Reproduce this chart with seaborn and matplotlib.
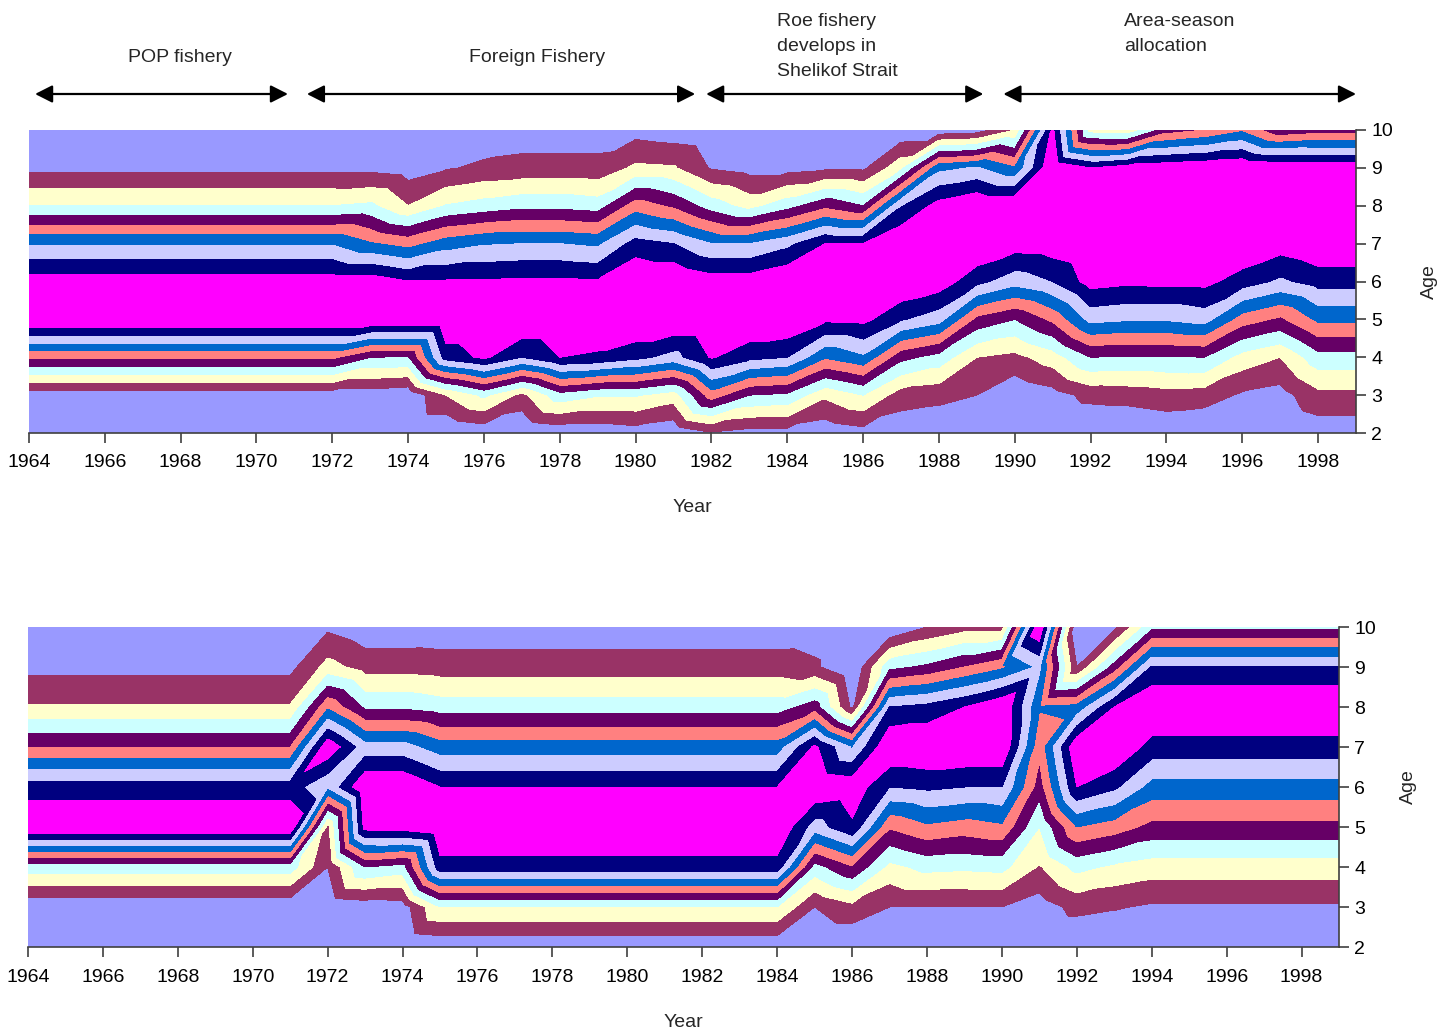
import numpy as np
import matplotlib
matplotlib.use("Agg")
import matplotlib.pyplot as plt
import matplotlib.tri as mtri
import seaborn as sns

# ---------------- data ----------------
years = list(range(1964, 2000))
ages = [2, 3, 4, 5, 6, 7, 8, 9, 10]

# Upper panel: selectivity by age (rows) for each year 1964..1999
top_age2 = [0, 0, 0, 0, 0, 0, 0, 0, 0, 0, 0, 0, 0.03, 0, 0.03, 0.03, 0.05, 0.02, 0.09, 0.06, 0.06, 0.03, 0.06, 0.03, 0.02, 0, 0, 0, 0, 0, 0.02, 0, 0, 0, 0.04, 0.04]
top_age3 = [0.04, 0.04, 0.04, 0.04, 0.04, 0.04, 0.04, 0.04, 0.04, 0.04, 0.02, 0.2, 0.32, 0.17, 0.36, 0.31, 0.31, 0.25, 0.55, 0.4, 0.38, 0.22, 0.3, 0.15, 0.13, 0.1, 0.02, 0.06, 0.13, 0.14, 0.16, 0.15, 0.085, 0.06, 0.17, 0.17]
top_age4 = [0.52, 0.52, 0.52, 0.52, 0.52, 0.52, 0.52, 0.52, 0.52, 0.40, 0.39, 0.845, 0.92, 0.8, 0.9, 0.88, 0.83, 0.76, 0.91, 0.83, 0.8, 0.61, 0.68, 0.43, 0.36, 0.2, 0.17, 0.25, 0.4, 0.39, 0.39, 0.4, 0.26, 0.2, 0.36, 0.36]
top_age5 = [1.0, 1.0, 1.0, 1.0, 1.0, 1.0, 1.0, 1.0, 1.0, 1.0, 1.0, 1.0, 1.0, 1.0, 1.0, 1.0, 1.0, 1.0, 1.0, 1.0, 1.0, 0.92, 0.93, 0.81, 0.74, 0.47, 0.4, 0.52, 0.73, 0.71, 0.71, 0.74, 0.55, 0.48, 0.62, 0.62]
top_age6 = [0.95, 0.95, 0.95, 0.95, 0.95, 0.95, 0.95, 0.95, 0.95, 0.96, 0.905, 0.91, 0.91, 0.92, 0.92, 0.91, 1.0, 1.0, 0.95, 0.95, 1.0, 1.0, 1.0, 1.0, 0.96, 0.83, 0.74, 0.8, 0.94, 0.92, 0.93, 0.93, 0.85, 0.78, 0.84, 0.84]
top_age7 = [0.69, 0.69, 0.69, 0.69, 0.69, 0.69, 0.69, 0.69, 0.69, 0.61, 0.56, 0.65, 0.69, 0.7, 0.7, 0.68, 0.84, 0.8, 0.7, 0.7, 0.77, 0.9, 0.9, 1.0, 1.0, 1.0, 0.95, 0.96, 1.0, 1.0, 1.0, 1.0, 1.0, 0.95, 0.99, 0.99]
top_age8 = [0.30, 0.30, 0.30, 0.30, 0.30, 0.30, 0.30, 0.30, 0.30, 0.32, 0.20, 0.305, 0.34, 0.37, 0.37, 0.35, 0.55, 0.48, 0.35, 0.26, 0.36, 0.47, 0.4, 0.79, 0.94, 1.0, 1.0, 1.0, 1.0, 1.0, 1.0, 1.0, 1.0, 1.0, 1.0, 1.0]
top_age9 = [0.075, 0.075, 0.075, 0.075, 0.075, 0.075, 0.075, 0.075, 0.075, 0.07, 0.05, 0.09, 0.12, 0.13, 0.13, 0.13, 0.22, 0.21, 0.09, 0.06, 0.06, 0.08, 0.08, 0.27, 0.67, 0.71, 0.61, 1.0, 0.9, 0.95, 0.97, 0.98, 1.0, 0.98, 0.97, 0.97]
top_age10 = [0.02, 0.02, 0.02, 0.02, 0.02, 0.02, 0.02, 0.02, 0.02, 0.02, 0.0, 0.02, 0.03, 0.05, 0.05, 0.05, 0.06, 0.04, 0.02, 0.01, 0.01, 0.01, 0.01, 0.02, 0.03, 0.05, 0.2, 0.92, 0.25, 0.23, 0.45, 0.5, 0.58, 0.42, 0.45, 0.45]

# Lower panel
bot_age2 = [0, 0, 0, 0, 0, 0, 0, 0, 0, 0, 0, 0.02, 0.02, 0.02, 0.02, 0.02, 0.02, 0.02, 0.02, 0.02, 0.02, 0, 0, 0, 0, 0, 0, 0, 0, 0, 0, 0, 0, 0, 0, 0]
bot_age3 = [0.025, 0.025, 0.025, 0.025, 0.025, 0.025, 0.025, 0.025, 0.02, 0.04, 0.05, 0.3, 0.3, 0.3, 0.3, 0.3, 0.3, 0.3, 0.3, 0.3, 0.3, 0.1, 0.17, 0.1, 0.1, 0.1, 0.1, 0.05, 0.13, 0.11, 0.085, 0.085, 0.085, 0.085, 0.085, 0.085]
bot_age4 = [0.35, 0.35, 0.35, 0.35, 0.35, 0.35, 0.35, 0.35, 0.1, 0.40, 0.36, 0.86, 0.86, 0.86, 0.86, 0.86, 0.86, 0.86, 0.86, 0.86, 0.86, 0.36, 0.49, 0.27, 0.33, 0.32, 0.33, 0.19, 0.33, 0.28, 0.25, 0.25, 0.25, 0.25, 0.25, 0.25]
bot_age5 = [1.0, 1.0, 1.0, 1.0, 1.0, 1.0, 1.0, 1.0, 0.17, 0.94, 0.95, 1.0, 1.0, 1.0, 1.0, 1.0, 1.0, 1.0, 1.0, 1.0, 1.0, 0.75, 0.88, 0.51, 0.58, 0.55, 0.58, 0.3, 0.6, 0.55, 0.47, 0.47, 0.47, 0.47, 0.47, 0.47]
bot_age6 = [0.85, 0.85, 0.85, 0.85, 0.85, 0.85, 0.85, 0.85, 0.71, 1.0, 1.0, 0.9, 0.9, 0.9, 0.9, 0.9, 0.9, 0.9, 0.9, 0.9, 0.9, 1.0, 0.97, 0.8, 0.82, 0.8, 0.8, 0.45, 0.9, 0.82, 0.66, 0.66, 0.66, 0.66, 0.66, 0.66]
bot_age7 = [0.5, 0.5, 0.5, 0.5, 0.5, 0.5, 0.5, 0.5, 0.98, 0.74, 0.74, 0.645, 0.645, 0.645, 0.645, 0.645, 0.645, 0.645, 0.645, 0.645, 0.645, 0.92, 0.69, 1.0, 1.0, 1.0, 1.0, 0.53, 0.99, 1.0, 0.86, 0.86, 0.86, 0.86, 0.86, 0.86]
bot_age8 = [0.21, 0.21, 0.21, 0.21, 0.21, 0.21, 0.21, 0.21, 0.58, 0.38, 0.38, 0.35, 0.35, 0.35, 0.35, 0.35, 0.35, 0.35, 0.35, 0.35, 0.35, 0.45, 0.08, 0.8, 0.83, 0.9, 1.0, 0.61, 0.63, 0.9, 1.0, 1.0, 1.0, 1.0, 1.0, 1.0]
bot_age9 = [0.07, 0.07, 0.07, 0.07, 0.07, 0.07, 0.07, 0.07, 0.235, 0.16, 0.16, 0.15, 0.15, 0.15, 0.15, 0.15, 0.15, 0.15, 0.15, 0.15, 0.15, 0.12, 0.0, 0.37, 0.42, 0.5, 0.58, 0.72, 0.1, 0.44, 0.81, 0.81, 0.81, 0.81, 0.81, 0.81]
bot_age10 = [0.0, 0.0, 0.0, 0.0, 0.0, 0.0, 0.0, 0.0, 0.08, 0.03, 0.03, 0.035, 0.035, 0.035, 0.035, 0.035, 0.035, 0.035, 0.035, 0.035, 0.035, 0.04, 0.0, 0.0, 0.1, 0.16, 0.16, 1.0, 0.0, 0.07, 0.37, 0.37, 0.37, 0.37, 0.37, 0.37]

band_edges = [-0.001, 0.1, 0.2, 0.3, 0.4, 0.5, 0.6, 0.7, 0.8, 0.9, 1.001]
band_colors = ["#9999FF", "#993366", "#FFFFCC", "#CCFFFF", "#660066",
               "#FF8080", "#0066CC", "#CCCCFF", "#000080", "#FF00FF"]

x_tick_years = list(range(1964, 1999, 2))
y_tick_ages = [2, 3, 4, 5, 6, 7, 8, 9, 10]

period_labels = ["POP fishery", "Foreign Fishery",
                 "Roe fishery\ndevelops in\nShelikof Strait", "Area-season\nallocation"]
period_label_x = [1967.98, 1977.39, 1983.74, 1992.89]
period_label_ha = ["center", "center", "left", "left"]
arrow_starts = [1964.16, 1971.33, 1981.86, 1989.70]
arrow_ends = [1970.83, 1981.57, 1989.17, 1999.0]

# ---------------- style ----------------
sns.set_theme(style="ticks")
plt.rcParams["font.family"] = ["Liberation Sans", "DejaVu Sans"]
FS = 14
AXC = "#404040"

W, H = 1450, 1036
fig = plt.figure(figsize=(W / 100, H / 100), dpi=100)
ax1 = fig.add_axes([29 / W, 1 - 433 / H, 1327 / W, 303 / H])
ax2 = fig.add_axes([28 / W, 1 - 947 / H, 1311 / W, 320 / H])

top_grid = np.array([top_age2, top_age3, top_age4, top_age5, top_age6,
                     top_age7, top_age8, top_age9, top_age10])
bot_grid = np.array([bot_age2, bot_age3, bot_age4, bot_age5, bot_age6,
                     bot_age7, bot_age8, bot_age9, bot_age10])

# mesh of the (year, age) grid cut into triangles along the rising diagonal
nx, ny = len(years), len(ages)
YY, AA = np.meshgrid(years, ages)
tris = []
for j in range(ny - 1):
    for i in range(nx - 1):
        p00 = j * nx + i
        p10 = p00 + 1
        p01 = p00 + nx
        p11 = p01 + 1
        tris.append([p00, p10, p11])
        tris.append([p00, p11, p01])
mesh = mtri.Triangulation(YY.ravel(), AA.ravel(), np.array(tris))

ax1.tricontourf(mesh, top_grid.ravel(), levels=band_edges, colors=band_colors)
ax2.tricontourf(mesh, bot_grid.ravel(), levels=band_edges, colors=band_colors)

for ax, xpad, ylp in ((ax1, 8, 20), (ax2, 9, 17)):
    ax.set_xlim(1964, 1999)
    ax.set_ylim(2, 10)
    ax.set_xticks(x_tick_years)
    ax.set_xticklabels([str(y) for y in x_tick_years])
    ax.set_yticks(y_tick_ages)
    ax.yaxis.tick_right()
    ax.yaxis.set_label_position("right")
    for s in ("left", "top"):
        ax.spines[s].set_visible(False)
    for s in ("right", "bottom"):
        ax.spines[s].set_color(AXC)
        ax.spines[s].set_linewidth(1.2)
    ax.tick_params(axis="both", direction="out", length=7, width=1.2,
                   color=AXC, labelsize=FS, labelcolor="black", pad=4)
    ax.tick_params(axis="x", pad=xpad)
    ax.set_xlabel("Year", fontsize=FS, labelpad=20)
    ax.set_ylabel("Age", fontsize=FS, labelpad=ylp)

# period annotations above the top panel
mixed = ax1.get_xaxis_transform().__class__(ax1.transData, fig.transFigure)
for x0, x1 in zip(arrow_starts, arrow_ends):
    ax1.annotate("", xy=(x1, 1 - 94 / H), xytext=(x0, 1 - 94 / H),
                 xycoords=("data", "figure fraction"),
                 textcoords=("data", "figure fraction"),
                 arrowprops=dict(arrowstyle="<|-|>,head_length=0.75,head_width=0.38",
                                 color="black", lw=1.6, shrinkA=0, shrinkB=0,
                                 mutation_scale=14),
                 annotation_clip=False)

for lab, x, ha in zip(period_labels, period_label_x, period_label_ha):
    if "\n" in lab:
        ax1.text(x, 1 - 13 / H, lab, transform=mixed, ha=ha, va="top",
                 fontsize=FS, linespacing=1.62)
    else:
        ax1.text(x, 1 - 57 / H, lab, transform=mixed, ha=ha, va="center",
                 fontsize=FS)

fig.savefig("out.png", dpi=100)
